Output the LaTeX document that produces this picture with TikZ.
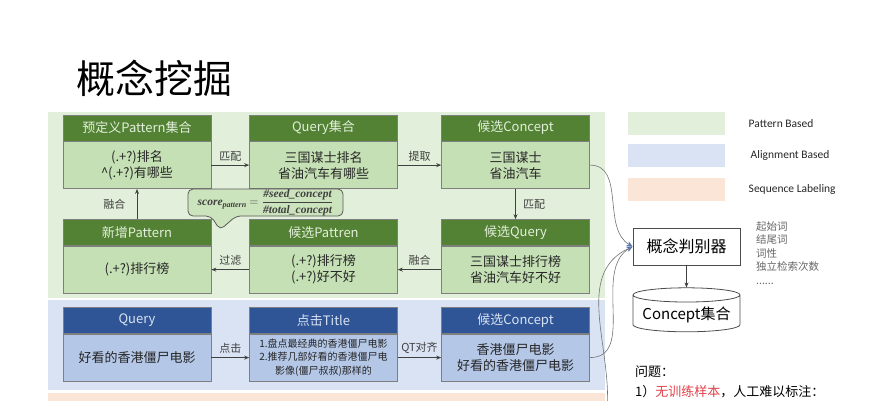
\documentclass[tikz,border=0pt]{standalone}
\usepackage{fontspec}
\setmainfont{Noto Sans CJK SC}
\newfontfamily\latfont{Carlito}
\newfontfamily\serfont{Liberation Serif}
\usetikzlibrary{positioning,shapes.geometric,arrows.meta}

\definecolor{grnhead}{RGB}{84,130,53}
\definecolor{grnbody}{RGB}{197,224,180}
\definecolor{grnpanel}{RGB}{226,239,218}
\definecolor{bluhead}{RGB}{47,85,151}
\definecolor{blubody}{RGB}{180,199,231}
\definecolor{blupanel}{RGB}{218,227,243}
\definecolor{orgpanel}{RGB}{251,229,214}
\definecolor{boxline}{RGB}{127,127,127}
\definecolor{txtgray}{RGB}{64,64,64}
\definecolor{warnred}{RGB}{224,64,74}

\newcommand{\fm}[1]{\mbox{\serfont\bfseries\itshape #1}}
\newcommand{\scoreformula}{\fm{score\textsubscript{pattern}} $=\displaystyle\frac{\fm{\#seed\_concept}}{\fm{\#total\_concept}}$}

\begin{document}
\begin{tikzpicture}[x=1pt,y=-1pt]
        \useasboundingbox (0,0) rectangle (878,400);

        \tikzstyle{head}=[draw=boxline,line width=0.6pt,minimum width=148pt,minimum height=26pt,font=\fontsize{13}{15}\selectfont]
        \tikzstyle{ghead}=[head,fill=grnhead,text=grnpanel]
        \tikzstyle{bhead}=[head,fill=bluhead,text=blupanel]
        \tikzstyle{body}=[draw=boxline,line width=0.6pt,minimum width=148pt,minimum height=47pt,align=center,font=\fontsize{13}{16}\selectfont,text=black!85]
        \tikzstyle{gbody}=[body,fill=grnbody]
        \tikzstyle{bbody}=[body,fill=blubody]
        \tikzstyle{flow}=[-{Stealth[length=5pt,width=4pt]},line width=0.8pt,draw=black!75]
        \tikzstyle{curve}=[-{Stealth[length=6pt,width=5pt,color=bluhead!80]},line width=0.6pt,draw=black!55]
        \tikzstyle{lbl}=[font=\fontsize{11}{13}\selectfont,text=txtgray]
        \tikzstyle{legend}=[minimum width=97pt,minimum height=23pt]
        \tikzstyle{lgtxt}=[font=\latfont\fontsize{11.5}{13}\selectfont,text=black!85]
        \tikzstyle{callbox}=[draw=black!65,line width=0.8pt,fill=grnbody!75!grnpanel]

        % background bands
        \fill[grnpanel] (48,112) rectangle (605,298);
        \fill[blupanel] (48,300) rectangle (605,390);
        \fill[orgpanel] (48,393) rectangle (605,420);

        \node[anchor=west,font=\fontsize{39}{40}\selectfont] (title) at (73,78) {概念挖掘};

        % pattern based
        \node[ghead] (patset) at (137,128) {预定义Pattern集合};
        \node[gbody,below=0pt of patset] (patsetb) {(.+?)排名\\\textasciicircum(.+?)有哪些};
        \node[ghead] (qryset) at (323.5,128) {Query集合};
        \node[gbody,below=0pt of qryset] (qrysetb) {三国谋士排名\\省油汽车有哪些};
        \node[ghead] (cand) at (515.5,128) {候选Concept};
        \node[gbody,below=0pt of cand] (candb) {三国谋士\\省油汽车};

        \node[ghead] (newpat) at (137,232.5) {新增Pattern};
        \node[gbody,below=0pt of newpat] (newpatb) {(.+?)排行榜};
        \node[ghead] (candpat) at (323.5,232.5) {候选Pattren};
        \node[gbody,below=0pt of candpat] (candpatb) {(.+?)排行榜\\(.+?)好不好};
        \node[ghead] (candqry) at (515.5,232.5) {候选Query};
        \node[gbody,below=0pt of candqry] (candqryb) {三国谋士排行榜\\省油汽车好不好};

        \draw[flow] (patsetb) -- node[lbl,above]{匹配} (qrysetb);
        \draw[flow] (qrysetb) -- node[lbl,above]{提取} (candb);
        \draw[flow] (candb) -- node[lbl,right=4pt]{匹配} (candqry);
        \draw[flow] (candqryb) -- node[lbl,above]{融合} (candpatb);
        \draw[flow] (candpatb) -- node[lbl,above]{过滤} (newpatb);
        \draw[flow] (newpat) -- node[lbl,left=8pt]{融合} (patsetb);

        % score callout
        \draw[callbox,rounded corners=5pt] (188,189) -- (343,189) -- (343,216) -- (236,216) -- (220,230) -- (211,216) -- (188,216) -- cycle;
        \node[inner sep=1pt,text=txtgray,font=\fontsize{11.5}{12}\selectfont] (score) at (265.5,202.5) {\scoreformula};

        % alignment based
        \node[bhead] (query) at (137,320.5) {Query};
        \node[bbody,below=0pt of query] (queryb) {好看的香港僵尸电影};
        \node[bhead] (click) at (323.5,320.5) {点击Title};
        \node[bbody,below=0pt of click,font=\fontsize{10}{13.5}\selectfont] (clickb) {1.盘点最经典的香港僵尸电影\\2.推荐几部好看的香港僵尸电\\影像(僵尸叔叔)那样的};
        \node[bhead] (aligned) at (515.5,320.5) {候选Concept};
        \node[bbody,below=0pt of aligned] (alignedb) {香港僵尸电影\\好看的香港僵尸电影};

        \draw[flow] (queryb) -- node[lbl,above]{点击} (clickb);
        \draw[flow] (clickb) -- node[lbl,above]{QT对齐} (alignedb);

        % legend
        \node[legend,fill=grnpanel] (lgpat) at (676.5,123.5) {};
        \node[legend,fill=blupanel] (lgali) at (676.5,155.5) {};
        \node[legend,fill=orgpanel] (lgseq) at (676.5,189) {};
        \node[lgtxt,right=20pt of lgpat] (lgpatt) {Pattern Based};
        \node[lgtxt,right=22pt of lgali] (lgalit) {Alignment Based};
        \node[lgtxt,right=20pt of lgseq] (lgseqt) {Sequence Labeling};

        % classifier
        \node[draw=black!70,line width=0.8pt,fill=white,minimum width=107pt,minimum height=37pt,font=\fontsize{16}{18}\selectfont] (judge) at (686.5,246.5) {概念判别器};
        \node[cylinder,shape border rotate=90,aspect=0.15,draw=black!70,line width=0.8pt,minimum width=107pt,minimum height=44pt,below=22pt of judge,font=\fontsize{15}{17}\selectfont] (cset) {Concept集合};
        \draw[flow] (judge) -- (cset);

        \coordinate (seqend) at (607,412);
        \draw[curve] (candb.east) to[out=0,in=150] (judge.west);
        \draw[curve] (alignedb.east) to[out=0,in=210] (judge.west);
        \draw[curve] (seqend) to[out=85,in=205] (judge.west);

        \node[anchor=north west,align=left,inner sep=0pt,font=\fontsize{10.5}{13.5}\selectfont,text=black!60] (feats) at (756,221) {起始词\\结尾词\\词性\\独立检索次数\\......};

        \node[anchor=west,inner sep=0pt,font=\fontsize{13}{15}\selectfont] (quest) at (635,372) {问题：};
        \node[anchor=west,inner sep=0pt,font=\fontsize{13}{15}\selectfont] (issue) at (635,392) {1）\textcolor{warnred}{无训练样本}，人工难以标注：};
\end{tikzpicture}
\end{document}
